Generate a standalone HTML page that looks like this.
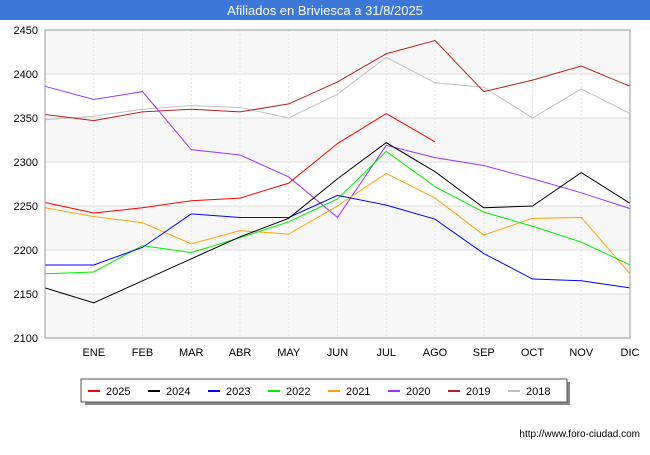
<!DOCTYPE html>
<html><head><meta charset="utf-8"><style>
body{margin:0;background:#fff;font-family:"Liberation Sans",sans-serif}
</style></head><body>
<svg width="650" height="450" xmlns="http://www.w3.org/2000/svg" font-family="Liberation Sans, sans-serif">
<rect x="0" y="0" width="650" height="20" fill="#3b78d8"/>
<text x="325" y="15" text-anchor="middle" fill="#fff" font-size="13">Afiliados en Briviesca a 31/8/2025</text>
<g id="grid"></g>
<g id="series"></g>
<g id="axes" font-size="11" fill="#000"></g>
<rect x="85" y="382" width="485" height="23" fill="#888"/>
<rect x="81" y="379" width="486" height="23" fill="#fff" stroke="#555"/>
<g id="legend" font-size="11"></g>
<text x="640" y="437" text-anchor="end" font-size="10">http://www.foro-ciudad.com</text>
</svg>
<script>
const months=["","ENE","FEB","MAR","ABR","MAY","JUN","JUL","AGO","SEP","OCT","NOV","DIC"];
const yTicks=[2100,2150,2200,2250,2300,2350,2400,2450];
const seriesNames=["2025","2024","2023","2022","2021","2020","2019","2018"];
const seriesColors=["#ff0000","#000000","#0000ff","#00ee00","#ffa500","#9933ff","#b22222","#c0c0c0"];
const s2025=[2254,2242,2248,2256,2259,2276,2321,2355,2323];
const s2024=[2157,2140,2165,2190,2215,2236,2281,2322,2289,2248,2250,2288,2253];
const s2023=[2183,2183,2203,2241,2237,2237,2262,2251,2235,2196,2167,2165,2157];
const s2022=[2173,2175,2205,2197,2214,2232,2258,2312,2272,2243,2227,2209,2183];
const s2021=[2248,2238,2231,2207,2222,2218,2250,2287,2259,2217,2236,2237,2173];
const s2020=[2386,2371,2380,2314,2308,2283,2237,2319,2305,2296,2281,2265,2247];
const s2019=[2354,2347,2357,2360,2357,2366,2391,2423,2438,2380,2393,2409,2386];
const s2018=[2348,2352,2360,2364,2362,2350,2377,2419,2390,2385,2350,2383,2355];
const allSeries=[s2025,s2024,s2023,s2022,s2021,s2020,s2019,s2018];
const NS="http://www.w3.org/2000/svg";
const x0=45,x1=630,y0=338,y1=30,vmin=2100,vmax=2450;
const X=i=>x0+i*(x1-x0)/12;
const Y=v=>y0-(v-vmin)*(y0-y1)/(vmax-vmin);
function mk(t,a,p){const e=document.createElementNS(NS,t);for(const k in a)e.setAttribute(k,a[k]);p.appendChild(e);return e;}
const grid=document.getElementById('grid'),axes=document.getElementById('axes'),ser=document.getElementById('series'),leg=document.getElementById('legend');
for(let i=0;i<yTicks.length-1;i+=2){
 const r=mk('rect',{x:x0,y:Y(yTicks[i+1]),width:x1-x0,height:Y(yTicks[i])-Y(yTicks[i+1]),fill:'#f7f7f7'},grid);
 
 
}
yTicks.forEach(v=>{
 const l=mk('line',{x1:x0,x2:x1,y1:Y(v),y2:Y(v),stroke:'#ddd','stroke-width':1},grid);
 
 
 const t=mk('text',{x:x0-7,y:Y(v)+4,'text-anchor':'end'},axes);t.textContent=v;
 
 
});
months.forEach((m,i)=>{
 if(i>0){const l=mk('line',{x1:X(i),x2:X(i),y1:y1,y2:y0,stroke:'#e4e4e4','stroke-dasharray':'2,2'},grid);
 
 }
 if(m){const t=mk('text',{x:X(i),y:356,'text-anchor':'middle'},axes);t.textContent=m;
 
 }
});
const fr=mk('rect',{x:x0,y:y1,width:x1-x0,height:y0-y1,fill:'none',stroke:'#999'},axes);


for(let k=allSeries.length-1;k>=0;k--){
 const p=mk('polyline',{points:allSeries[k].map((v,i)=>X(i)+','+Y(v)).join(' '),fill:'none',stroke:seriesColors[k],'stroke-width':1},ser);
 
 
}
seriesNames.forEach((n,k)=>{
 const bx=88+k*60;
 const l=mk('line',{x1:bx,x2:bx+12,y1:391,y2:391,stroke:seriesColors[k],'stroke-width':2},leg);
 
 
 const t=mk('text',{x:bx+18,y:395},leg);t.textContent=n;
 
 
});
</script>
</body></html>
